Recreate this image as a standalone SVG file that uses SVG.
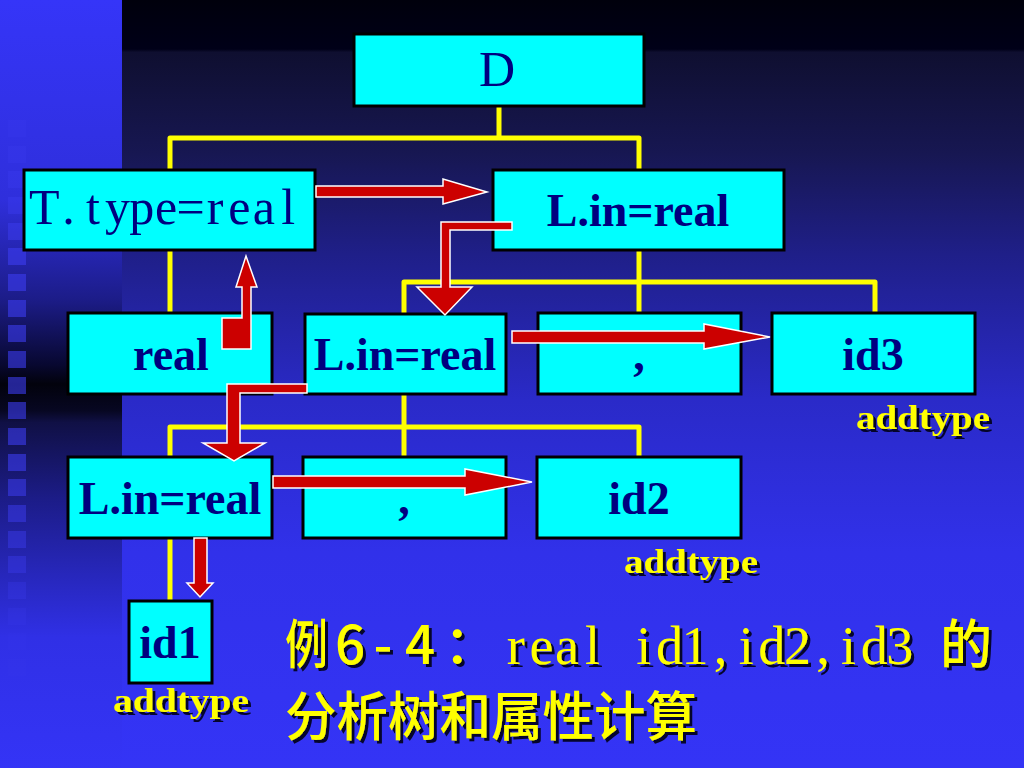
<svg xmlns="http://www.w3.org/2000/svg" width="1024" height="768" viewBox="0 0 1024 768">
<defs>
<linearGradient id="gMain" x1="0" y1="0" x2="0" y2="768" gradientUnits="userSpaceOnUse">
<stop offset="0" stop-color="#00000c"/>
<stop offset="0.064" stop-color="#000018"/>
<stop offset="0.068" stop-color="#0f0f30"/>
<stop offset="0.2" stop-color="#171752"/>
<stop offset="0.33" stop-color="#1f1f88"/>
<stop offset="0.52" stop-color="#2a2ac8"/>
<stop offset="0.72" stop-color="#3131ea"/>
<stop offset="1" stop-color="#3434f6"/>
</linearGradient>
<linearGradient id="gLeft" x1="0" y1="0" x2="0" y2="768" gradientUnits="userSpaceOnUse">
<stop offset="0" stop-color="#3535f8"/>
<stop offset="0.26" stop-color="#2f2fdc"/>
<stop offset="0.39" stop-color="#1c1c88"/>
<stop offset="0.475" stop-color="#080830"/>
<stop offset="0.5" stop-color="#02020c"/>
<stop offset="0.535" stop-color="#070722"/>
<stop offset="0.55" stop-color="#101045"/>
<stop offset="0.65" stop-color="#1c1c88"/>
<stop offset="0.83" stop-color="#3030e6"/>
<stop offset="1" stop-color="#3434f6"/>
</linearGradient>
<filter id="sh" x="-10%" y="-20%" width="130%" height="160%">
<feDropShadow dx="3" dy="3" stdDeviation="0.6" flood-color="#000018" flood-opacity="0.9"/>
</filter>
<style>
.node rect{fill:#00ffff;stroke:#000;stroke-width:3}
.nt{font-family:"Liberation Serif","Times New Roman",serif;font-weight:bold;font-size:46px;fill:#000080;text-anchor:middle}
.mono{font-family:"Liberation Serif","Times New Roman",serif;font-size:50px;fill:#000080;text-anchor:middle}
.tree{fill:none;stroke:#ffff00;stroke-width:5;stroke-linejoin:round;stroke-linecap:butt}
.arr{fill:#cc0000;stroke:#ffffff;stroke-width:1.5;stroke-linejoin:miter}
.add{font-family:"Liberation Serif","Times New Roman",serif;font-weight:bold;font-size:34px;fill:#ffff00;filter:url(#sh)}
.cap{font-family:"Noto Sans CJK SC","Noto Sans",sans-serif;font-weight:500;font-size:53px;fill:#ffff00;filter:url(#sh)}
.capl{font-family:"Liberation Serif","Times New Roman",serif;font-size:54px;fill:#ffff00;filter:url(#sh);text-anchor:middle}
.sq{fill:#3c3cf0}
</style>
</defs>

<!-- background -->
<rect x="0" y="0" width="1024" height="768" fill="url(#gMain)"/>
<rect x="0" y="0" width="122" height="768" fill="url(#gLeft)"/>
<g id="squares">
<rect class="sq" x="8" y="120" width="18" height="17" opacity="0.25"/>
<rect class="sq" x="8" y="146" width="18" height="17" opacity="0.3"/>
<rect class="sq" x="8" y="171" width="18" height="17" opacity="0.35"/>
<rect class="sq" x="8" y="197" width="18" height="17" opacity="0.4"/>
<rect class="sq" x="8" y="223" width="18" height="17" opacity="0.5"/>
<rect class="sq" x="8" y="248" width="18" height="17" opacity="0.6"/>
<rect class="sq" x="8" y="274" width="18" height="17" opacity="0.6"/>
<rect class="sq" x="8" y="300" width="18" height="17" opacity="0.6"/>
<rect class="sq" x="8" y="325" width="18" height="17" opacity="0.6"/>
<rect class="sq" x="8" y="351" width="18" height="17" opacity="0.6"/>
<rect class="sq" x="8" y="377" width="18" height="17" opacity="0.6"/>
<rect class="sq" x="8" y="402" width="18" height="17" opacity="0.6"/>
<rect class="sq" x="8" y="428" width="18" height="17" opacity="0.6"/>
<rect class="sq" x="8" y="454" width="18" height="17" opacity="0.6"/>
<rect class="sq" x="8" y="479" width="18" height="17" opacity="0.55"/>
<rect class="sq" x="8" y="505" width="18" height="17" opacity="0.5"/>
<rect class="sq" x="8" y="531" width="18" height="17" opacity="0.45"/>
<rect class="sq" x="8" y="556" width="18" height="17" opacity="0.4"/>
<rect class="sq" x="8" y="582" width="18" height="17" opacity="0.3"/>
<rect class="sq" x="8" y="608" width="18" height="17" opacity="0.2"/>
<rect class="sq" x="8" y="633" width="18" height="17" opacity="0.12"/>
<rect class="sq" x="8" y="659" width="18" height="17" opacity="0.06"/>
</g>

<!-- tree connectors -->
<g id="tree-lines">
<path class="tree" d="M499,106 V138"/>
<path class="tree" d="M170,170 V138 H639 V170"/>
<path class="tree" d="M170,250 V313"/>
<path class="tree" d="M639,250 V313"/>
<path class="tree" d="M404,313 V282 H875 V313"/>
<path class="tree" d="M404,394 V457"/>
<path class="tree" d="M170,457 V427 H639 V457"/>
<path class="tree" d="M170,538 V601"/>
</g>

<!-- nodes -->
<g id="node-D" class="node">
<rect x="354" y="34" width="290" height="72"/>
<text class="mono" x="497" y="86">D</text>
</g>
<g id="node-Ttype" class="node">
<rect x="24" y="170" width="291" height="80"/>
<text class="mono" x="44.2 68.6 93 117.4 141.8 166.2 190.6 215 239.4 263.8 288.2" y="224">T.type=real</text>
</g>
<g id="node-Lin1" class="node">
<rect x="493" y="170" width="291" height="80"/>
<text class="nt" x="638" y="226">L.in=real</text>
</g>
<g id="node-real" class="node">
<rect x="68" y="313" width="204" height="81"/>
<text class="nt" x="171" y="370">real</text>
</g>
<g id="node-Lin2" class="node">
<rect x="305" y="314" width="201" height="80"/>
<text class="nt" x="405" y="370">L.in=real</text>
</g>
<g id="node-comma1" class="node">
<rect x="538" y="313" width="203" height="81"/>
<text class="nt" x="639" y="370">,</text>
</g>
<g id="node-id3" class="node">
<rect x="772" y="313" width="203" height="81"/>
<text class="nt" x="873" y="370">id3</text>
</g>
<g id="node-Lin3" class="node">
<rect x="68" y="457" width="204" height="81"/>
<text class="nt" x="170" y="514">L.in=real</text>
</g>
<g id="node-comma2" class="node">
<rect x="303" y="457" width="203" height="81"/>
<text class="nt" x="404" y="514">,</text>
</g>
<g id="node-id2" class="node">
<rect x="537" y="457" width="204" height="81"/>
<text class="nt" x="639" y="514">id2</text>
</g>
<g id="node-id1" class="node">
<rect x="129" y="601" width="83" height="82"/>
<text class="nt" x="170" y="658">id1</text>
</g>

<!-- attribute flow arrows -->
<g id="flow-arrows">
<polygon class="arr" points="316,186 443,186 443,179 487,192 443,204 443,197 316,197"/>
<polygon class="arr" points="512,222 441,222 441,287 417,287 445,315 472,287 450,287 450,230 512,230"/>
<polygon class="arr" points="222,349 251,349 251,287 257,287 246,256 236,287 242,287 242,318 222,318"/>
<polygon class="arr" points="307,384 227,384 227,443 203,443 234,461 265,443 240,443 240,393 307,393"/>
<polygon class="arr" points="512,331 704,331 704,324 770,337 704,349 704,343 512,343"/>
<polygon class="arr" points="273,476 465,476 465,469 532,482 465,495 465,488 273,488"/>
<polygon class="arr" points="194,538 207,538 207,583 213,583 200,597 187,583 194,583"/>
</g>

<!-- addtype labels -->
<text class="add" x="856" y="429" textLength="134" lengthAdjust="spacingAndGlyphs">addtype</text>
<text class="add" x="624" y="573" textLength="134" lengthAdjust="spacingAndGlyphs">addtype</text>
<text class="add" x="113" y="712" textLength="136" lengthAdjust="spacingAndGlyphs">addtype</text>

<!-- caption -->
<g id="caption">
<text class="cap" x="285" y="664" textLength="43" lengthAdjust="spacingAndGlyphs">例</text>
<text class="cap" x="350 383 420" y="664" text-anchor="middle">6-4</text>
<text class="cap" x="444" y="664">：</text>
<text class="capl" x="515.8 541.4 567 592.6" y="664">real</text>
<text class="capl" x="643.8 669.4 695 720.6 746.2 771.8 797.4 823 848.6 874.2 899.8" y="664">id1,id2,id3</text>
<text class="cap" x="940" y="664" textLength="52" lengthAdjust="spacingAndGlyphs">的</text>
<text class="cap" x="285" y="736" textLength="412" lengthAdjust="spacingAndGlyphs">分析树和属性计算</text>
</g>
</svg>
